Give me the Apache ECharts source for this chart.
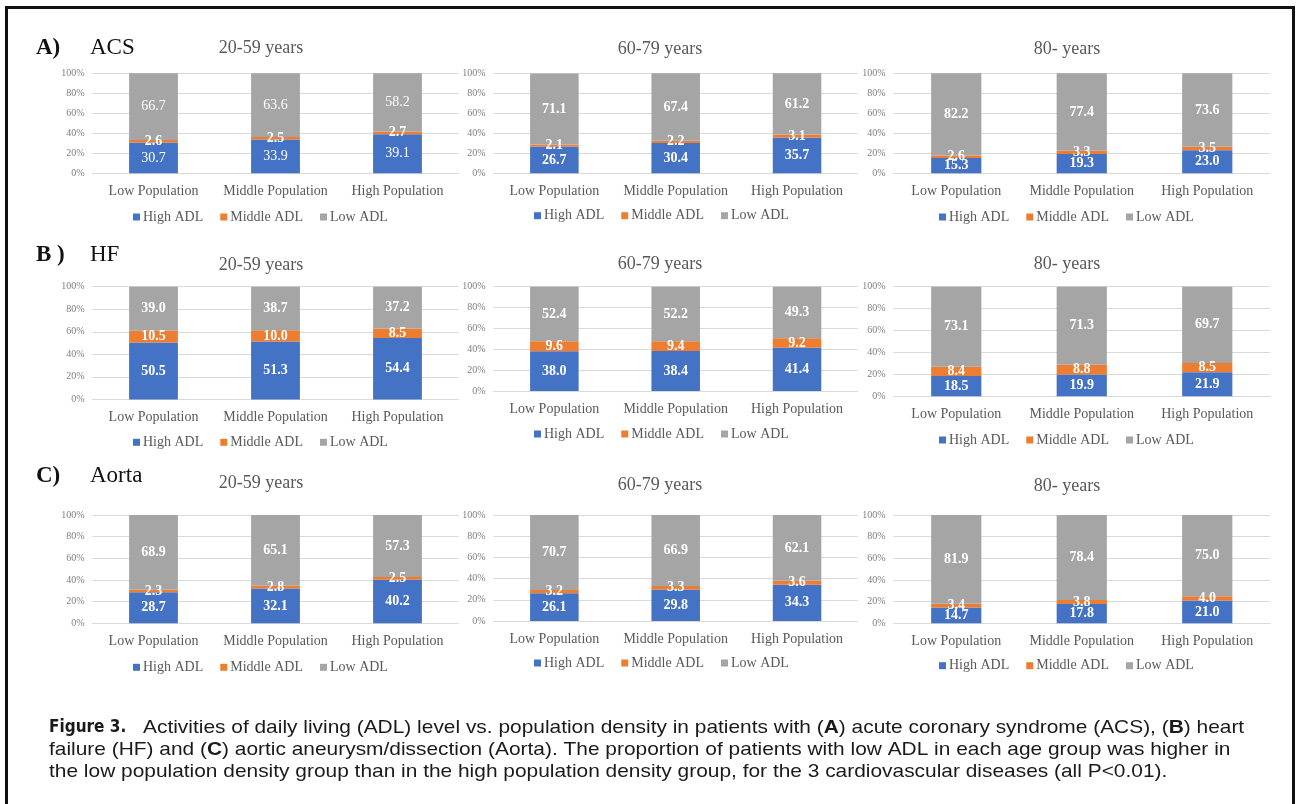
<!DOCTYPE html>
<html>
<head>
<meta charset="utf-8">
<title>ADL level vs population density</title>
<script src="https://cdn.jsdelivr.net/npm/echarts@6/dist/echarts.min.js"></script>
<style>
  html, body { margin: 0; padding: 0; background: #fff; }
  #main { width: 1297px; height: 804px; }
</style>
</head>
<body>
<div id="main"></div>
<script>
/*----------------------- data -----------------------------*/
var categories = ["Low Population", "Middle Population", "High Population"];
var adlNames = ["High ADL", "Middle ADL", "Low ADL"];
var ageGroups = ["20-59 years", "60-79 years", "80- years"];

// ACS  [High, Middle, Low]
var acsHigh2059 = [30.7, 33.9, 39.1];
var acsMid2059 = [2.6, 2.5, 2.7];
var acsLow2059 = [66.7, 63.6, 58.2];
var acsHigh6079 = [26.7, 30.4, 35.7];
var acsMid6079 = [2.1, 2.2, 3.1];
var acsLow6079 = [71.1, 67.4, 61.2];
var acsHigh80 = [15.3, 19.3, 23.0];
var acsMid80 = [2.6, 3.3, 3.5];
var acsLow80 = [82.2, 77.4, 73.6];

// HF
var hfHigh2059 = [50.5, 51.3, 54.4];
var hfMid2059 = [10.5, 10.0, 8.5];
var hfLow2059 = [39.0, 38.7, 37.2];
var hfHigh6079 = [38.0, 38.4, 41.4];
var hfMid6079 = [9.6, 9.4, 9.2];
var hfLow6079 = [52.4, 52.2, 49.3];
var hfHigh80 = [18.5, 19.9, 21.9];
var hfMid80 = [8.4, 8.8, 8.5];
var hfLow80 = [73.1, 71.3, 69.7];

// Aorta
var aortaHigh2059 = [28.7, 32.1, 40.2];
var aortaMid2059 = [2.3, 2.8, 2.5];
var aortaLow2059 = [68.9, 65.1, 57.3];
var aortaHigh6079 = [26.1, 29.8, 34.3];
var aortaMid6079 = [3.2, 3.3, 3.6];
var aortaLow6079 = [70.7, 66.9, 62.1];
var aortaHigh80 = [14.7, 17.8, 21.0];
var aortaMid80 = [3.4, 3.8, 4.0];
var aortaLow80 = [81.9, 78.4, 75.0];

var panelData = [
  [[acsHigh2059, acsMid2059, acsLow2059], [acsHigh6079, acsMid6079, acsLow6079], [acsHigh80, acsMid80, acsLow80]],
  [[hfHigh2059, hfMid2059, hfLow2059], [hfHigh6079, hfMid6079, hfLow6079], [hfHigh80, hfMid80, hfLow80]],
  [[aortaHigh2059, aortaMid2059, aortaLow2059], [aortaHigh6079, aortaMid6079, aortaLow6079], [aortaHigh80, aortaMid80, aortaLow80]]
];
var rowLetters = ["A)", "B )", "C)"];
var rowNames = ["ACS", "HF", "Aorta"];

/*----------------------- layout -----------------------------*/
var adlColors = ["#4472c4", "#ed7d31", "#a5a5a5"];
var serif = "Liberation Serif";
var colLeft = [92.5, 493.7, 893.5];
var colWidth = [366, 364, 376.5];
var rowTop = [73.3, 286.7, 515];
var plotHeight = [[100, 100, 100], [112.7, 104.3, 109.5], [108.3, 106, 108.3]];
var legendMid = [[218, 216.7, 218], [443.3, 435, 441], [668.3, 664, 666.7]];
var legendLeft = [133, 534, 939];
var titleY = [[48, 49, 49], [265, 264, 264], [483, 485, 486]];
var titleX = [261, 660, 1067];
var rowLabelY = [48, 255, 476];

var grids = [], xAxes = [], yAxes = [], series = [], legends = [], texts = [];

for (var r = 0; r < 3; r++) {
  for (var c = 0; c < 3; c++) {
    var i = r * 3 + c;
    grids.push({
      left: colLeft[c],
      top: rowTop[r],
      width: colWidth[c],
      height: plotHeight[r][c],
      outerBoundsMode: "none"
    });
    xAxes.push({
      type: "category",
      gridIndex: i,
      data: categories,
      axisLine: { lineStyle: { color: "#d9d9d9", width: 1 } },
      axisTick: { show: false },
      axisLabel: { interval: 0, color: "#595959", fontFamily: serif, fontSize: 14, margin: 11 }
    });
    yAxes.push({
      type: "value",
      gridIndex: i,
      min: 0,
      max: 100,
      interval: 20,
      axisLine: { show: false },
      axisTick: { show: false },
      axisLabel: { formatter: "{value}%", color: "#7f7f7f", fontFamily: serif, fontSize: 10, margin: 8 },
      splitLine: { show: true, lineStyle: { color: "#d9d9d9", width: 1, type: "solid" } }
    });
    for (var k = 0; k < 3; k++) {
      // 左上图的高/低ADL标签不是粗体
      var weight = (i === 0 && k !== 1) ? "normal" : "bold";
      series.push({
        name: adlNames[k],
        type: "bar",
        stack: "p" + i,
        xAxisIndex: i,
        yAxisIndex: i,
        data: panelData[r][c][k],
        barWidth: "40%",
        itemStyle: { color: adlColors[k] },
        label: {
          show: true,
          position: "inside",
          color: "#fff",
          fontFamily: serif,
          fontSize: 14,
          fontWeight: weight,
          formatter: function (p) { return p.value.toFixed(1); }
        },
        emphasis: { disabled: true }
      });
    }
    legends.push({
      left: legendLeft[c],
      top: legendMid[r][c] - 8,
      padding: 0,
      itemWidth: 7,
      itemHeight: 7,
      itemGap: 17,
      icon: "rect",
      data: adlNames,
      textStyle: { color: "#595959", fontFamily: serif, fontSize: 14, padding: [0, 0, 0, -2] }
    });
    texts.push({
      type: "text",
      x: titleX[c],
      y: titleY[r][c],
      style: { text: ageGroups[c], fill: "#595959", fontFamily: serif, fontSize: 18, align: "center", verticalAlign: "middle" }
    });
  }
  texts.push({
    type: "text",
    x: 36,
    y: rowLabelY[r],
    style: { text: rowLetters[r], fill: "#111", fontFamily: serif, fontSize: 23, fontWeight: "bold", align: "left", verticalAlign: "middle" }
  });
  texts.push({
    type: "text",
    x: 90,
    y: rowLabelY[r],
    style: { text: rowNames[r], fill: "#111", fontFamily: serif, fontSize: 23, align: "left", verticalAlign: "middle" }
  });
}

/*----------------------- caption + frame -----------------------------*/
var captionFont = { fontFamily: "Liberation Sans", fontSize: 19, lineHeight: 22, fill: "#1a1a1a" };
var captionRich = {
  b: { fontFamily: "Liberation Sans", fontWeight: "bold", fontSize: 19, lineHeight: 22, fill: "#1a1a1a" }
};
var captionLine1 = "Activities of daily living (ADL) level vs. population density in patients with ({b|A}) acute coronary syndrome (ACS), ({b|B}) heart";
var captionRest =
  "failure (HF) and ({b|C}) aortic aneurysm/dissection (Aorta). The proportion of patients with low ADL in each age group was higher in\n" +
  "the low population density group than in the high population density group, for the 3 cardiovascular diseases (all P<0.01).";

texts.push({
  type: "text",
  x: 49,
  y: 727.5,
  style: { text: "Figure 3.", fill: "#1a1a1a", fontFamily: "DejaVu Sans Condensed", fontWeight: "bold", fontSize: 17, align: "left", verticalAlign: "middle" }
});
texts.push({
  type: "text",
  x: 143,
  y: 716.5,
  scaleX: 1.1,
  style: echarts.util.extend({ text: captionLine1, align: "left", verticalAlign: "top", rich: captionRich }, captionFont)
});
texts.push({
  type: "text",
  x: 49,
  y: 738.5,
  scaleX: 1.1,
  style: echarts.util.extend({ text: captionRest, align: "left", verticalAlign: "top", rich: captionRich }, captionFont)
});
texts.push({
  type: "rect",
  shape: { x: 6.5, y: 7.5, width: 1287, height: 900 },
  style: { fill: "none", stroke: "#111", lineWidth: 3 },
  silent: true
});

var myChart = echarts.init(document.getElementById("main"));
var option = {
  animation: false,
  backgroundColor: "#fff",
  grid: grids,
  xAxis: xAxes,
  yAxis: yAxes,
  legend: legends,
  series: series,
  graphic: { elements: texts }
};
myChart.setOption(option);
</script>
</body>
</html>
